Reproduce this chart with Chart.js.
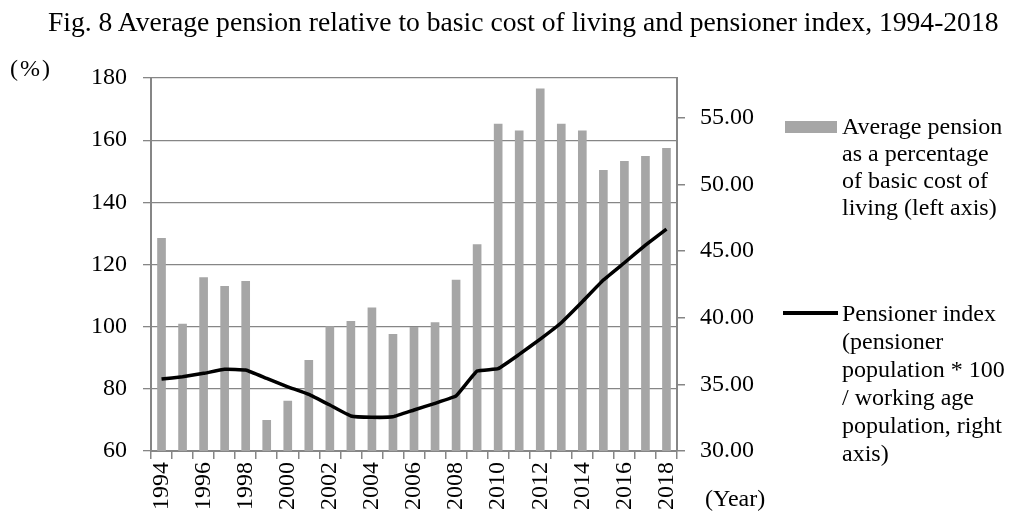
<!DOCTYPE html>
<html lang="en">
<head>
  <meta charset="UTF-8" />
  <title>Fig. 8 Average pension and pensioner index</title>
  <script src="https://cdn.jsdelivr.net/npm/chart.js"></script>
  <style>
    body { margin: 0; background: #fff; font-family: 'Liberation Serif', 'Times New Roman', serif; color: #000; }
    .wrap { position: relative; width: 1013px; height: 517px; overflow: hidden; }
    .wrap canvas { position: absolute; left: 0; top: 0; }
    .txt { position: absolute; font-size: 24px; white-space: nowrap; }
    .title { font-size: 27.6px; }
    .swatch-bar { position: absolute; left: 785px; top: 121px; width: 52px; height: 12px; background: #a6a6a6; }
    .swatch-line { position: absolute; left: 783px; top: 311px; width: 55px; height: 4px; background: #000; }
  </style>
</head>
<body>
<div class="wrap">
  <canvas id="pensionChart" width="1013" height="517"></canvas>

  <div class="txt title" style="left:48px; top:8px; line-height:28px;">Fig. 8 Average pension relative to basic cost of living and pensioner index, 1994-2018</div>
  <div class="txt" style="left:10px; top:54px; line-height:28px; letter-spacing:2px;">(%)</div>
  <div class="txt" style="left:705px; top:484px; line-height:28px;">(Year)</div>

  <!-- legend -->
  <div class="swatch-bar"></div>
  <div class="txt" style="left:842px; top:113px; line-height:27px;">Average pension<br>as a percentage<br>of basic cost of<br>living (left axis)</div>
  <div class="swatch-line"></div>
  <div class="txt" style="left:842px; top:299px; line-height:28px;">Pensioner index<br>(pensioner<br>population * 100<br>/ working age<br>population, right<br>axis)</div>
</div>

<script>
  // data
  const years = ['1994', '1995', '1996', '1997', '1998', '1999', '2000', '2001', '2002', '2003', '2004', '2005', '2006',
                 '2007', '2008', '2009', '2010', '2011', '2012', '2013', '2014', '2015', '2016', '2017', '2018'];
  const pensionPct = [128.4, 100.8, 115.8, 113.0, 114.6, 69.9, 76.1, 89.2, 100.0, 101.7, 106.1, 97.5, 99.8,
                      101.3, 115.0, 126.4, 165.2, 163.0, 176.5, 165.2, 163.0, 150.3, 153.2, 154.8, 157.4];
  const pensionerIndex = [35.40, 35.57, 35.83, 36.13, 36.08, 35.45, 34.82, 34.25, 33.45, 32.63, 32.53, 32.57, 33.08,
                          33.58, 34.13, 36.00, 36.18, 37.25, 38.40, 39.63, 41.20, 42.83, 44.13, 45.45, 46.65];
  const leftTicks = [60, 80, 100, 120, 140, 160, 180];
  const rightTicks = [30, 35, 40, 45, 50, 55];

  const axisGrey = '#868686';
  const font = { family: "'Liberation Serif', 'Times New Roman', serif", size: 24 };

  new Chart(document.getElementById('pensionChart'), {
    data: {
      labels: years,
      datasets: [
        {
          type: 'line',
          label: 'Pensioner index',
          data: pensionerIndex,
          yAxisID: 'y1',
          borderColor: '#000',
          borderWidth: 3.5,
          pointRadius: 0,
          tension: 0.1,
          order: 0
        },
        {
          type: 'bar',
          label: 'Average pension as a percentage of basic cost of living',
          data: pensionPct,
          yAxisID: 'y',
          backgroundColor: '#a6a6a6',
          barThickness: 8,
          order: 1
        }
      ]
    },
    options: {
      responsive: false,
      animation: false,
      layout: { padding: { left: 0, right: 0, top: 78, bottom: 0 } },
      plugins: {
        legend: { display: false },
        tooltip: { enabled: false }
      },
      scales: {
        x: {
          offset: true,
          grid: { offset: true, drawOnChartArea: false, drawTicks: true, tickLength: 8, color: axisGrey, lineWidth: 1.5 },
          border: { display: true, color: axisGrey, width: 2 },
          ticks: {
            autoSkip: false,
            minRotation: 90,
            maxRotation: 90,
            padding: 3,
            color: '#000',
            font: font,
            callback: function (val, i) { return i % 2 === 0 ? years[i] : ''; }
          },
          afterFit: function (scale) { scale.height = 66; }
        },
        y: {
          position: 'left',
          min: leftTicks[0],
          max: leftTicks[leftTicks.length - 1],
          ticks: { stepSize: 20, padding: 16, color: '#000', font: font },
          grid: { color: axisGrey, lineWidth: 1.3, tickLength: 8 },
          border: { display: true, color: axisGrey, width: 2 },
          afterBuildTicks: function (scale) {
            scale.ticks = leftTicks.map(v => ({ value: v }));
          },
          afterFit: function (scale) { scale.width = 151; }
        },
        y1: {
          position: 'right',
          min: rightTicks[0],
          max: 58,
          ticks: {
            stepSize: 5,
            padding: 15,
            color: '#000',
            font: font,
            callback: function (v) { return Number(v).toFixed(2); }
          },
          grid: { drawOnChartArea: false, color: axisGrey, lineWidth: 1.5, tickLength: 8 },
          border: { display: true, color: axisGrey, width: 2 },
          afterBuildTicks: function (scale) {
            scale.ticks = rightTicks.map(v => ({ value: v }));
          },
          afterFit: function (scale) { scale.width = 336; }
        }
      }
    }
  });
</script>
</body>
</html>
